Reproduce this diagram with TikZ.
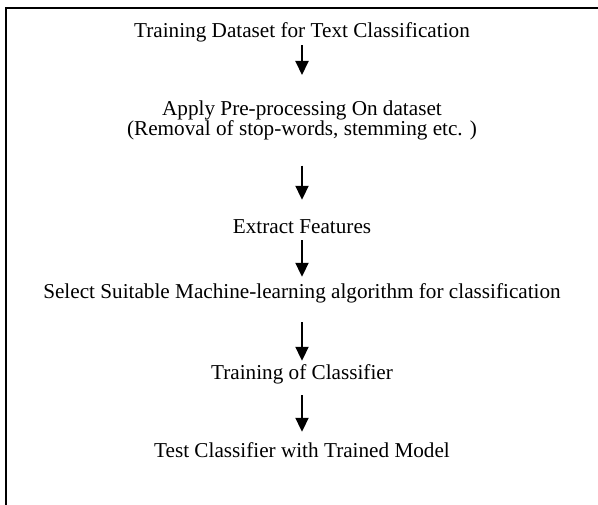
\documentclass[tikz,border=0pt]{standalone}
\usepackage{fontspec}
\setmainfont{Liberation Serif}
\usetikzlibrary{arrows.meta}

\tikzset{
  stage/.style={inner sep=0pt, text height=14.5pt, text depth=4.5pt,
    font=\fontsize{21.2}{20}\selectfont, anchor=base},
  flow/.style={line width=2pt, -{Triangle[width=13pt,length=14pt]}}
}

\begin{document}
\begin{tikzpicture}[x=1pt,y=1pt]
  \useasboundingbox (0,0) rectangle (598,-505);
  % open frame: top and left edges only
  \draw[line width=2pt] (598,-8) -- (6,-8) -- (6,-505);

  \node[stage] (data) at (302,-38) {Training Dataset for Text Classification};
  \node[inner sep=0pt, align=center, anchor=north,
    font=\fontsize{21.2}{20}\selectfont] (prep) at (302,-101)
    {Apply Pre-processing On dataset\\(Removal of stop-words, stemming etc. )};
  \node[stage] (feat) at (302,-234) {Extract Features};
  \node[stage] (algo) at (302,-299) {Select Suitable Machine-learning algorithm for classification};
  \node[stage] (train) at (302,-380) {Training of Classifier};
  \node[stage] (test) at (302,-458) {Test Classifier with Trained Model};

  \draw[flow, shorten <=2.5pt, shorten >=26pt] (data) -- (prep);
  \draw[flow, shorten <=25pt, shorten >=19.5pt] (prep) -- (feat);
  \draw[flow, shorten <=1.5pt, shorten >=7.5pt] (feat) -- (algo);
  \draw[flow, shorten <=18.5pt, shorten >=4.5pt] (algo) -- (train);
  \draw[flow, shorten <=10.5pt, shorten >=11.5pt] (train) -- (test);
\end{tikzpicture}
\end{document}
